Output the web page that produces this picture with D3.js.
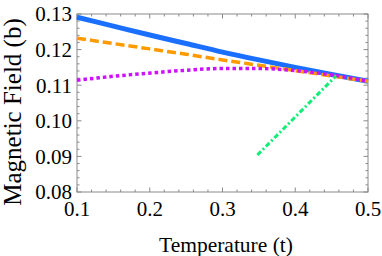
<!DOCTYPE html>
<html><head><meta charset="utf-8">
<script src="https://cdn.jsdelivr.net/npm/d3@7"></script>
<style>
html,body{margin:0;padding:0;background:#fff;}
svg{display:block;}
</style></head>
<body>
<svg id="chart" width="382" height="256"></svg>
<script>
const tValues = [0.1,0.15,0.2,0.25,0.3,0.35,0.4,0.45,0.5];
const blueSeries = [0.1291,0.1266,0.1241,0.1217,0.1193,0.1171,0.1150,0.1130,0.1111];
const orangeSeries = [0.1232,0.1217,0.1202,0.1187,0.1171,0.1156,0.1141,0.1126,0.1111];
const magentaSeries = [0.1114,0.1125,0.1134,0.1142,0.1147,0.1147,0.1141,0.1129,0.1111];
const greenT = [0.348,0.456];
const greenSeries = [0.0904,0.1126];
const xTicks = [0.1,0.2,0.3,0.4,0.5];
const yTicks = [0.08,0.09,0.10,0.11,0.12,0.13];
const xLabel = "Temperature (t)";
const yLabel = "Magnetic Field (b)";

const FONT = "'Liberation Serif', Tinos, 'Times New Roman', Times, serif";
const L=77,R=368,T=14,B=192;
const svg=d3.select("#chart");
const x=d3.scaleLinear().domain([0.1,0.5]).range([L,R]);
const y=d3.scaleLinear().domain([0.08,0.13]).range([B,T]);

const xMinor=d3.range(0,21).map(i=>0.1+i*0.02);
const yMinor=d3.range(0,26).map(i=>0.08+i*0.002);
const isMajor=(v,step)=>Math.abs(v/step-Math.round(v/step))<1e-6;
const tc="#8a8a8a";

const g=svg.append("g");
xMinor.forEach(v=>{
  const len=isMajor(v,0.1)?4.5:2.5;
  g.append("line").attr("x1",x(v)).attr("x2",x(v)).attr("y1",B).attr("y2",B-len).attr("stroke",tc);
  g.append("line").attr("x1",x(v)).attr("x2",x(v)).attr("y1",T).attr("y2",T+len).attr("stroke",tc);
});
yMinor.forEach(v=>{
  const len=isMajor(v,0.01)?4.5:2.5;
  g.append("line").attr("y1",y(v)).attr("y2",y(v)).attr("x1",L).attr("x2",L+len).attr("stroke",tc);
  g.append("line").attr("y1",y(v)).attr("y2",y(v)).attr("x1",R).attr("x2",R-len).attr("stroke",tc);
});
svg.append("rect").attr("x",L).attr("y",T).attr("width",R-L).attr("height",B-T)
  .attr("fill","none").attr("stroke",tc).attr("stroke-width",1);

svg.selectAll(".xt").data(xTicks).enter().append("text")
  .attr("x",d=>x(d)).attr("y",216).attr("text-anchor","middle")
  .attr("font-family",FONT).attr("font-size",21).attr("fill","#000").text(d=>d.toFixed(1));
svg.selectAll(".yt").data(yTicks).enter().append("text")
  .attr("x",L-5).attr("y",d=>y(d)).attr("dy","0.35em").attr("text-anchor","end")
  .attr("font-family",FONT).attr("font-size",21).attr("fill","#000").text(d=>d.toFixed(2));

svg.append("text").attr("x",226).attr("y",252).attr("text-anchor","middle")
  .attr("font-family",FONT).attr("font-size",21.5).attr("fill","#000").text(xLabel);
svg.append("text").attr("transform","translate(21,112) rotate(-90)").attr("text-anchor","middle")
  .attr("font-family",FONT).attr("font-size",25).attr("fill","#000").text(yLabel);

const line=d3.line().x(d=>x(d[0])).y(d=>y(d[1])).curve(d3.curveMonotoneX);
const plot=svg.append("g");
function draw(ts,vs,color,w,dash){
  plot.append("path").datum(ts.map((t,i)=>[t,vs[i]])).attr("d",line)
    .attr("fill","none").attr("stroke",color).attr("stroke-width",w)
    .attr("stroke-dasharray",dash||null);
}
draw(tValues,blueSeries,"#1a6fff",5,null);
draw(tValues,orangeSeries,"#ff9a00",3.5,"9,4");
draw(tValues,magentaSeries,"#cc11ff",3.5,"3.5,3");
draw(greenT,greenSeries,"#11ee77",3,"5,2.5,2,2.5");
</script>
</body></html>
